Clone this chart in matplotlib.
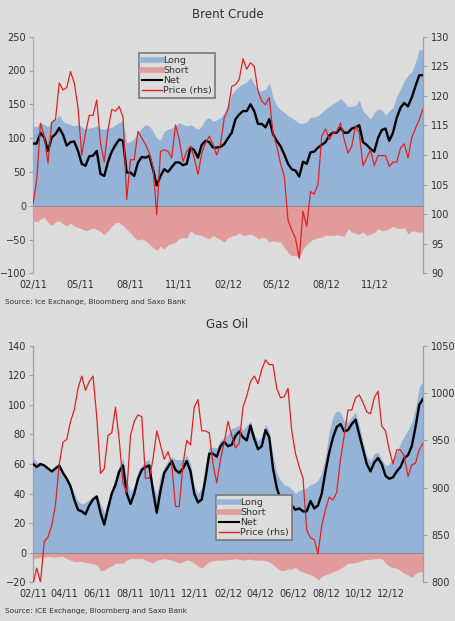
import numpy as np
import pandas as pd
import matplotlib
matplotlib.use("Agg")
import matplotlib.pyplot as plt
import matplotlib.dates as mdates
from matplotlib.lines import Line2D

plt.rcParams['font.family'] = ['DejaVu Sans']

weeks = pd.date_range('2011-02-01', periods=105, freq='7D')

# ---------------- Brent Crude ----------------
brent_long = [118, 117, 123, 120, 117, 126, 128, 134, 125, 122, 120, 118, 120, 117, 113, 115, 116, 118, 114, 113,
              115, 116, 120, 123, 125, 93, 95, 100, 106, 115, 120, 118, 110, 100, 97, 110, 113, 115, 118, 123,
              120, 118, 120, 117, 113, 118, 128, 130, 125, 127, 130, 138, 150, 165, 172, 177, 180, 183, 190, 180,
              170, 170, 172, 182, 160, 148, 142, 138, 133, 130, 126, 122, 122, 124, 131, 131, 133, 138, 143, 147,
              151, 154, 159, 153, 147, 147, 148, 157, 140, 134, 128, 138, 143, 142, 134, 140, 145, 162, 173, 185,
              193, 198, 212, 231, 231]
brent_short = [-22, -24, -20, -17, -25, -29, -24, -22, -27, -30, -26, -30, -32, -34, -37, -35, -33, -35, -38, -43,
               -37, -30, -25, -25, -29, -35, -40, -47, -51, -49, -52, -57, -62, -66, -60, -64, -58, -56, -54, -48,
               -47, -48, -37, -42, -43, -44, -47, -49, -44, -47, -50, -54, -47, -45, -44, -40, -44, -43, -42, -44,
               -49, -47, -48, -54, -52, -53, -54, -62, -69, -74, -74, -76, -64, -57, -52, -49, -47, -47, -43, -44,
               -44, -43, -44, -45, -34, -39, -41, -42, -39, -44, -42, -40, -34, -37, -36, -34, -30, -33, -34, -32,
               -42, -37, -38, -39, -39]
brent_net = [92, 92, 108, 101, 81, 101, 106, 115, 105, 89, 94, 95, 81, 62, 59, 73, 74, 81, 47, 44,
             65, 80, 90, 98, 96, 49, 49, 44, 64, 72, 71, 74, 54, 30, 44, 54, 50, 57, 64, 64,
             60, 62, 86, 82, 71, 90, 96, 94, 86, 86, 87, 91, 100, 108, 128, 135, 140, 140, 150, 140,
             121, 121, 116, 128, 106, 96, 88, 76, 62, 54, 52, 43, 65, 62, 79, 80, 86, 90, 94, 104,
             108, 108, 115, 108, 108, 114, 116, 119, 94, 90, 84, 80, 100, 112, 114, 96, 108, 130, 145, 152,
             147, 160, 177, 193, 193]
brent_price = [101.6, 105.8, 115.4, 113.2, 108.6, 115.5, 116.0, 122.2, 121.0, 121.4, 124.1, 122.2, 118.0, 110.0,
               113.7, 116.7, 116.7, 119.3, 112.0, 108.8, 114.3, 117.7, 117.4, 118.2, 116.4, 102.5, 109.2, 109.2,
               114.0, 112.9, 111.8, 110.3, 108.0, 99.9, 110.6, 110.9, 110.6, 109.5, 115.1, 112.6, 108.9, 110.6,
               111.5, 109.5, 106.7, 110.3, 112.0, 113.2, 111.8, 110.0, 111.8, 116.3, 117.7, 121.6, 121.9, 122.8,
               126.3, 124.5, 125.6, 125.0, 120.8, 119.1, 118.5, 119.7, 113.7, 111.5, 108.6, 106.4, 99.0, 97.3,
               95.9, 92.5, 100.5, 97.9, 103.8, 103.4, 105.0, 113.2, 114.4, 112.6, 113.7, 114.0, 115.4, 112.6,
               110.3, 111.5, 114.9, 113.7, 108.2, 109.5, 110.9, 108.2, 109.9, 109.9, 109.9, 108.1, 108.8, 108.8,
               111.2, 111.9, 109.5, 112.9, 114.5, 116.0, 117.8]

# ---------------- Gas Oil ----------------
gas_long = [65, 61, 61, 59, 57, 56, 59, 60, 55, 50, 46, 40, 35, 33, 34, 36, 38, 40, 33, 27,
            34, 42, 52, 59, 64, 49, 41, 45, 55, 59, 62, 63, 46, 39, 52, 58, 62, 65, 63, 63,
            63, 66, 60, 45, 40, 44, 60, 72, 71, 71, 76, 78, 80, 84, 85, 86, 83, 86, 89, 80,
            76, 78, 87, 82, 66, 54, 49, 46, 45, 43, 40, 42, 43, 44, 46, 47, 49, 54, 65, 82,
            92, 96, 95, 89, 88, 92, 95, 86, 75, 65, 62, 67, 68, 63, 59, 60, 64, 68, 74, 79,
            83, 88, 98, 112, 116]
gas_short = [-4, -3.5, -3, -3, -2.5, -3, -3, -2.5, -2.5, -4, -5, -6, -6, -6, -6.5, -7, -7.5, -8, -12, -12,
             -10, -9, -7, -7, -7, -5, -4, -4, -4, -4, -5, -6, -7, -5, -4.5, -4, -4.5, -5, -6, -7,
             -6, -5, -5.5, -7, -9, -10.5, -8, -6, -5.5, -5, -5, -5, -4.5, -4.5, -4, -4.5, -5, -4.5, -4.5, -5,
             -5, -5, -5.5, -6, -8, -10, -12, -12, -11, -11, -10, -12, -13, -14, -15, -16, -18.5, -16, -15, -14,
             -13, -12, -10.5, -9, -7, -7, -6.5, -6, -5, -4.5, -4.5, -4, -4, -4, -7, -9, -10, -10.5, -12, -14,
             -15, -17, -14, -13, -13]
gas_net = [60, 58, 60, 59, 57, 55, 57, 59, 54, 50, 45, 36, 29, 28, 26, 32, 36, 38, 27, 19,
           30, 40, 46, 55, 59, 40, 33, 40, 50, 56, 58, 59, 42, 27, 42, 54, 58, 62, 56, 54,
           57, 62, 55, 40, 34, 36, 50, 67, 67, 65, 72, 75, 72, 73, 79, 82, 78, 76, 86, 77,
           70, 72, 83, 78, 57, 44, 36, 34, 34, 32, 29, 30, 28, 28, 35, 30, 32, 40, 55, 68,
           78, 85, 87, 82, 83, 87, 90, 80, 70, 60, 55, 61, 64, 60, 52, 50, 51, 55, 58, 64,
           66, 72, 85, 100, 104]
gas_price = [798, 815, 800, 843, 848, 860, 882, 925, 948, 951, 970, 982, 1005, 1018, 1003, 1012, 1018, 975, 915, 920,
             955, 958, 985, 950, 905, 895, 955, 970, 977, 975, 910, 910, 930, 960, 945, 930, 938, 925, 880, 880,
             925, 950, 945, 985, 993, 960, 960, 958, 925, 905, 930, 948, 970, 955, 942, 947, 985, 997, 1012, 1018,
             1010, 1025, 1035, 1030, 1030, 1005, 995, 996, 1005, 960, 936, 922, 910, 855, 847, 845, 830, 860, 877, 890,
             887, 895, 930, 955, 982, 982, 995, 998, 990, 980, 978, 995, 1002, 965, 960, 940, 925, 940, 940, 933,
             912, 924, 926, 940, 947]

BG = '#dcdcdc'
BLUE = '#95b3d7'
PINK = '#e29b9b'
RED = '#e3211f'
TXT = '#303030'

fig = plt.figure(figsize=(4.55, 6.21), dpi=100, facecolor=BG)


def panel(rect, title, title_y, long_, short_, net_, price_, ylim, yticks, y2lim, y2ticks,
          month_step, leg_anchor, source, source_y, left_color):
    ax = fig.add_axes(rect)
    ax.set_facecolor('none')
    ax.fill_between(weeks, 0, long_, color=BLUE, lw=0, zorder=1)
    ax.fill_between(weeks, 0, short_, color=PINK, lw=0, zorder=1)
    ax.axhline(0, color='#8c8c8c', lw=0.8, zorder=2)
    ax.plot(weeks, net_, color='black', lw=1.7, zorder=3)
    ax.set_xlim(weeks[0], weeks[-1])
    ax.set_ylim(*ylim)
    ax.set_yticks(yticks)
    ax.xaxis.set_major_locator(mdates.MonthLocator(bymonth=range(2, 13, month_step)))
    ax.xaxis.set_major_formatter(mdates.DateFormatter('%m/%y'))
    ax.tick_params(axis='x', length=0, pad=5, labelsize=7, colors=TXT)
    ax.tick_params(axis='y', length=3, width=0.8, pad=2, labelsize=7, colors=TXT, color='#a0a0a0')
    for s in ['top', 'right', 'bottom']:
        ax.spines[s].set_visible(False)
    ax.spines['left'].set_color(left_color)
    ax.spines['left'].set_linewidth(0.9)

    # tick marks on the zero line
    zero_frac = (0 - ylim[0]) / (ylim[1] - ylim[0])
    sec = ax.secondary_xaxis(zero_frac)
    sec.xaxis.set_major_locator(mdates.MonthLocator(bymonth=range(2, 13, month_step)))
    sec.tick_params(axis='x', length=3, width=0.8, color='#8c8c8c', labelbottom=False, labeltop=False)
    sec.spines['bottom'].set_visible(False)
    sec.spines['top'].set_visible(False)

    ax2 = ax.twinx()
    ax2.plot(weeks, price_, color=RED, lw=0.9, zorder=4)
    ax2.set_ylim(*y2lim)
    ax2.set_yticks(y2ticks)
    ax2.set_xlim(weeks[0], weeks[-1])
    ax2.tick_params(axis='y', length=3, width=0.8, pad=3, labelsize=7, colors=TXT, color='#a0a0a0')
    for s in ['top', 'left', 'bottom']:
        ax2.spines[s].set_visible(False)
    ax2.spines['right'].set_color('#a0a0a0')
    ax2.spines['right'].set_linewidth(0.9)

    handles = [Line2D([], [], color=BLUE, lw=4),
               Line2D([], [], color=PINK, lw=4),
               Line2D([], [], color='black', lw=1.5),
               Line2D([], [], color=RED, lw=1.0)]
    leg = ax2.legend(handles, ['Long', 'Short', 'Net', 'Price (rhs)'], loc='upper left',
                     bbox_to_anchor=leg_anchor, fontsize=6.8, frameon=True, fancybox=False,
                     facecolor=BG, edgecolor='#808080', framealpha=1, handlelength=2.1,
                     handletextpad=0.15, labelspacing=0.12, borderpad=0.3, borderaxespad=0)
    leg.get_frame().set_linewidth(1.3)
    for t in leg.get_texts():
        t.set_color(TXT)

    fig.text(0.5, title_y, title, ha='center', va='center', fontsize=8.5, color=TXT)
    fig.text(0.012, source_y, source, ha='left', va='center', fontsize=5.3, color=TXT)


panel([33 / 455, 1 - 273.3 / 621, 390 / 455, 236.6 / 621], 'Brent Crude', 1 - 15 / 621,
      brent_long, brent_short, brent_net, brent_price,
      (-100, 250), np.arange(-100, 251, 50), (90, 130), np.arange(90, 131, 5),
      3, (0.272, 0.931), 'Source: Ice Exchange, Bloomberg and Saxo Bank', 1 - 302 / 621, BLUE)

panel([33 / 455, 1 - 582.3 / 621, 390 / 455, 236.6 / 621], 'Gas Oil', 1 - 325 / 621,
      gas_long, gas_short, gas_net, gas_price,
      (-20, 140), np.arange(-20, 141, 20), (800, 1050), np.arange(800, 1051, 50),
      2, (0.469, 0.369), 'Source: ICE Exchange, Bloomberg and Saxo Bank', 1 - 611.5 / 621, '#a0a0a0')

fig.savefig('out.png', dpi=100, facecolor=BG)
